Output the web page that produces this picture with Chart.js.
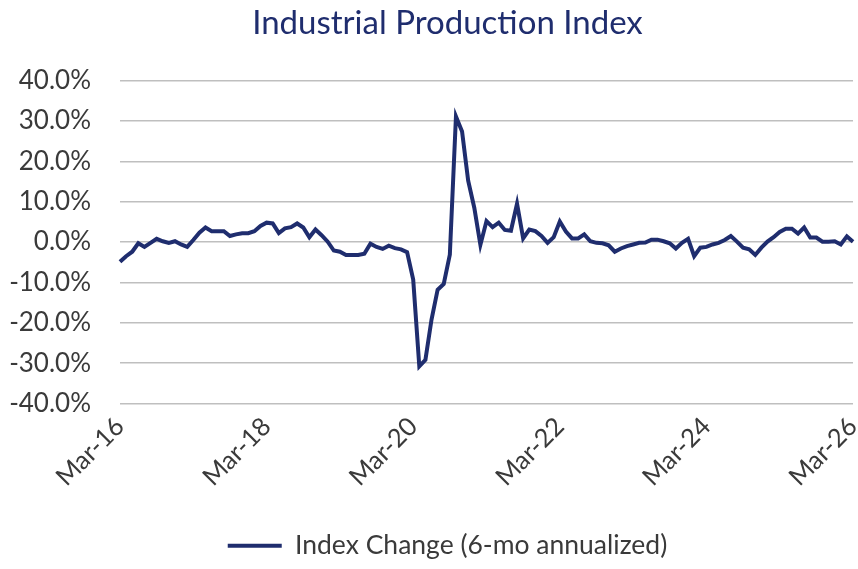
<!DOCTYPE html>
<html>
<head>
<meta charset="utf-8">
<script src="https://cdn.jsdelivr.net/npm/chart.js@4"></script>
<style>
  html, body { margin: 0; padding: 0; background: #fff; }
  #wrap { width: 858px; height: 569px; }
</style>
</head>
<body>
<div id="wrap"><canvas id="ipi-chart" width="858" height="569"></canvas></div>
<script>
// monthly, Mar-16 .. Mar-26
let monthNames = ['Jan', 'Feb', 'Mar', 'Apr', 'May', 'Jun', 'Jul', 'Aug', 'Sep', 'Oct', 'Nov', 'Dec'];
let xLabels = [];
for (let i = 0; i <= 120; i++) {
    let m = (2 + i) % 12;
    let y = 16 + Math.floor((2 + i) / 12);
    xLabels.push(monthNames[m] + '-' + y);
}
let shownTicks = ['Mar-16', 'Mar-18', 'Mar-20', 'Mar-22', 'Mar-24', 'Mar-26'];

// index change, 6-mo annualized, in percent
let indexChange = [
    -4.9, -3.5, -2.4, -0.3, -1.2, -0.2, 0.8, 0.2, -0.2, 0.2, -0.6, -1.2,
    0.5, 2.3, 3.6, 2.7, 2.7, 2.7, 1.5, 1.9, 2.2, 2.2, 2.7, 4.0,
    4.8, 4.6, 2.2, 3.4, 3.7, 4.6, 3.6, 1.2, 3.1, 1.7, 0.1, -2.1,
    -2.4, -3.2, -3.2, -3.2, -2.9, -0.4, -1.2, -1.7, -0.9, -1.5, -1.8, -2.5,
    -9.3, -30.8, -29.2, -19.2, -11.8, -10.4, -3.1, 31.1, 27.4, 15.2, 8.5, -0.7,
    5.2, 3.7, 4.8, 3.0, 2.8, 9.5, 0.9, 3.1, 2.7, 1.5, -0.2, 1.2,
    5.1, 2.6, 0.9, 0.9, 1.9, 0.2, -0.2, -0.3, -0.8, -2.4, -1.6, -1.0,
    -0.6, -0.2, -0.1, 0.6, 0.6, 0.2, -0.3, -1.6, -0.2, 0.8, -3.5, -1.4,
    -1.2, -0.6, -0.2, 0.5, 1.5, 0.1, -1.4, -1.8, -3.2, -1.4, 0.1, 1.2,
    2.5, 3.3, 3.3, 2.1, 3.6, 1.1, 1.1, 0.1, 0.1, 0.2, -0.6, 1.4,
    0.1
];
let yTicks = [-40, -30, -20, -10, 0, 10, 20, 30, 40];

let fontFamily = 'Lato, "Open Sans", sans-serif';
let navy = '#1F2D6E';
let textGrey = '#3A3A3A';

// title and legend sit a bit right of the canvas centre in the original
let nudgeTitleLegend = {
    id: 'nudgeTitleLegend',
    afterLayout: function (chart) {
        if (chart.titleBlock) chart.titleBlock.left += 42;
        if (chart.legend) chart.legend.left += 42;
    }
};

new Chart('ipi-chart', {
    type: 'line',
    data: {
        labels: xLabels,
        datasets: [
            {
                label: 'Index Change (6-mo annualized)',
                data: indexChange,
                borderColor: navy,
                backgroundColor: navy,
                borderWidth: 4,
                pointRadius: 0,
                tension: 0
            }
        ]
    },
    plugins: [nudgeTitleLegend],
    options: {
        responsive: false,
        animation: false,
        layout: { padding: { left: 0, right: 5, top: 0, bottom: 0 } },
        plugins: {
            title: {
                display: true,
                text: 'Industrial Production Index',
                color: navy,
                font: { family: fontFamily, size: 33, weight: 'normal' },
                padding: { top: 4, bottom: 37 }
            },
            legend: {
                position: 'bottom',
                labels: {
                    color: textGrey,
                    font: { family: fontFamily, size: 26.5 },
                    usePointStyle: true,
                    pointStyle: 'line',
                    pointStyleWidth: 54,
                    boxWidth: 54,
                    padding: 6
                }
            },
            tooltip: { enabled: false }
        },
        scales: {
            x: {
                grid: { display: false },
                border: { display: false },
                ticks: {
                    autoSkip: false,
                    maxRotation: 45,
                    minRotation: 45,
                    color: textGrey,
                    padding: 0,
                    font: { family: fontFamily, size: 25.5 },
                    callback: function (value, i) {
                        let lab = xLabels[i];
                        return shownTicks.includes(lab) ? lab : '';
                    }
                },
                afterFit: function (scale) {
                    scale.height = 123;
                    scale.paddingLeft = 0;
                    scale.paddingRight = 0;
                }
            },
            y: {
                min: -40,
                max: 40,
                afterBuildTicks: function (scale) {
                    scale.ticks = yTicks.map(v => ({ value: v }));
                },
                grid: { color: '#BFBFBF', lineWidth: 1.5, drawTicks: false },
                border: { display: false },
                ticks: {
                    color: textGrey,
                    padding: 29,
                    font: { family: fontFamily, size: 26 },
                    callback: function (v) { return v.toFixed(1) + '%'; }
                },
                afterFit: function (scale) { scale.width = 120; }
            }
        }
    }
});
</script>
</body>
</html>
